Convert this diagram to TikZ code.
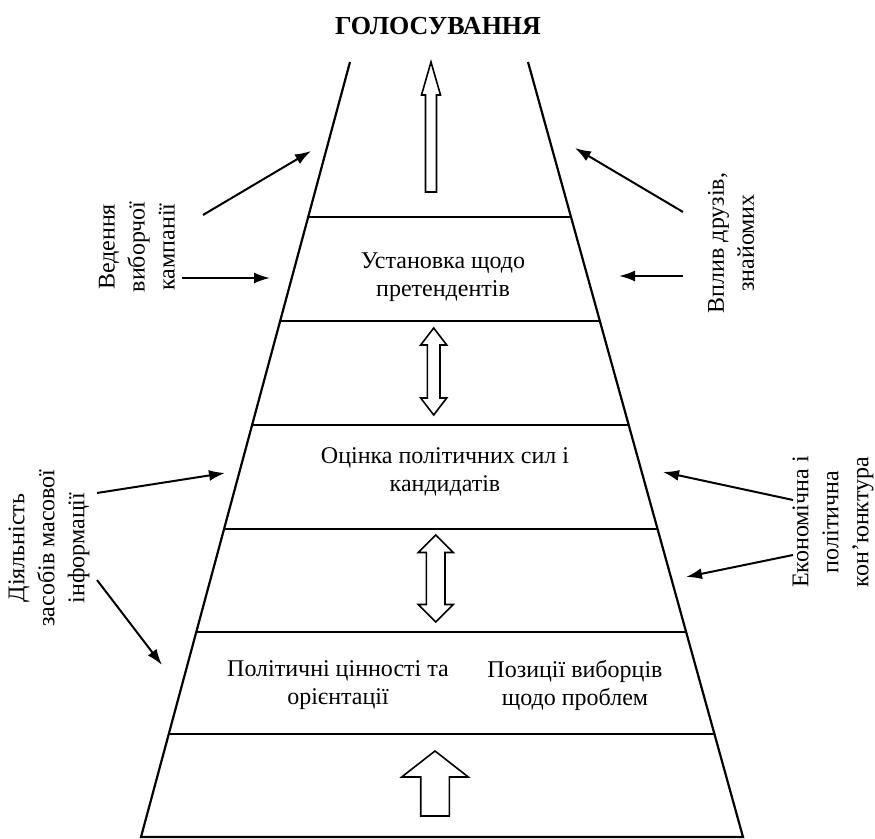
\documentclass[tikz,border=0pt]{standalone}
\usepackage{fontspec}
\setmainfont{Liberation Serif}
\usetikzlibrary{arrows.meta,calc}

\begin{document}
\begin{tikzpicture}[x=0.5pt,y=-0.5pt,
  every node/.style={inner sep=0pt, font=\fontsize{12}{14}\selectfont},
  stage/.style={align=center},
  side/.style={rotate=90, align=center, font=\fontsize{12}{15}\selectfont},
  infl/.style={line width=1pt, -{Latex[length=8pt,width=5.5pt]}},
  hollow/.style={draw, line width=0.8pt, fill=white}]
  \useasboundingbox (0,0) rectangle (875,839);

  % road
  \coordinate (tl) at (350,62);
  \coordinate (tr) at (528,62);
  \coordinate (bl) at (141,837);
  \coordinate (br) at (743,837);
  \draw[line width=1.1pt] (tl) -- (bl) -- (br) -- (tr);
  \foreach \t in {0.2,0.334,0.468,0.603,0.735,0.867}
    \draw[line width=1pt] ($(tl)!\t!(bl)$) -- ($(tr)!\t!(br)$);

  % stages
  \node[font=\bfseries\fontsize{13}{15}\selectfont] (vote) at (438,26) {ГОЛОСУВАННЯ};
  \node[stage] (ustan) at (443,277) {Установка щодо\\претендентів};
  \node[stage] (otsinka) at (445,472) {Оцінка політичних сил і\\кандидатів};
  \node[stage] (tsinn) at (338,685) {Політичні цінності та\\орієнтації};
  \node[stage] (pozyts) at (575,685) {Позиції виборців\\щодо проблем};

  % hollow arrows
  \draw[hollow] (431,62) -- (440.5,95) -- (436.5,95) -- (436.5,192)
    -- (425.5,192) -- (425.5,95) -- (421.5,95) -- cycle;
  \foreach \cx/\ya/\yb/\hl/\hw/\sw in {433.7/328/415/17/13/6.3, 435.7/535/622/17.5/17.5/9.3}
    \draw[hollow] (\cx,\ya) -- ({\cx+\hw},{\ya+\hl}) -- ({\cx+\sw},{\ya+\hl})
      -- ({\cx+\sw},{\yb-\hl}) -- ({\cx+\hw},{\yb-\hl}) -- (\cx,\yb)
      -- ({\cx-\hw},{\yb-\hl}) -- ({\cx-\sw},{\yb-\hl}) -- ({\cx-\sw},{\ya+\hl})
      -- ({\cx-\hw},{\ya+\hl}) -- cycle;
  \draw[hollow] (435,751) -- (468.3,777) -- (449.3,777) -- (449.3,816)
    -- (420.7,816) -- (420.7,777) -- (401.7,777) -- cycle;

  % influences
  \node[side] (kampan) at (137,247) {Ведення\\виборчої\\кампанії};
  \node[side] (zmi) at (49,548) {Діяльність\\засобів масової\\інформації};
  \node[side] (druzi) at (731,243) {Вплив друзів,\\знайомих};
  \node[side] (konj) at (833,522) {Економічна і\\політична\\кон’юнктура};

  \coordinate (kampan-a) at (203,215);
  \coordinate (kampan-b) at (182,278);
  \coordinate (zmi-a) at (97,493);
  \coordinate (zmi-b) at (97,580);
  \coordinate (druzi-a) at (683,212);
  \coordinate (druzi-b) at (683,276);
  \coordinate (konj-a) at (793,500);
  \coordinate (konj-b) at (793,555);
  \coordinate (road-1) at (311,151);
  \coordinate (road-2) at (270,278);
  \coordinate (road-3) at (225,473);
  \coordinate (road-4) at (162,665);
  \coordinate (road-5) at (575,148);
  \coordinate (road-6) at (619,276);
  \coordinate (road-7) at (663,472);
  \coordinate (road-8) at (686,577);

  \draw[infl] (kampan-a) -- (road-1);
  \draw[infl] (kampan-b) -- (road-2);
  \draw[infl] (zmi-a) -- (road-3);
  \draw[infl] (zmi-b) -- (road-4);
  \draw[infl] (druzi-a) -- (road-5);
  \draw[infl] (druzi-b) -- (road-6);
  \draw[infl] (konj-a) -- (road-7);
  \draw[infl] (konj-b) -- (road-8);
\end{tikzpicture}
\end{document}
